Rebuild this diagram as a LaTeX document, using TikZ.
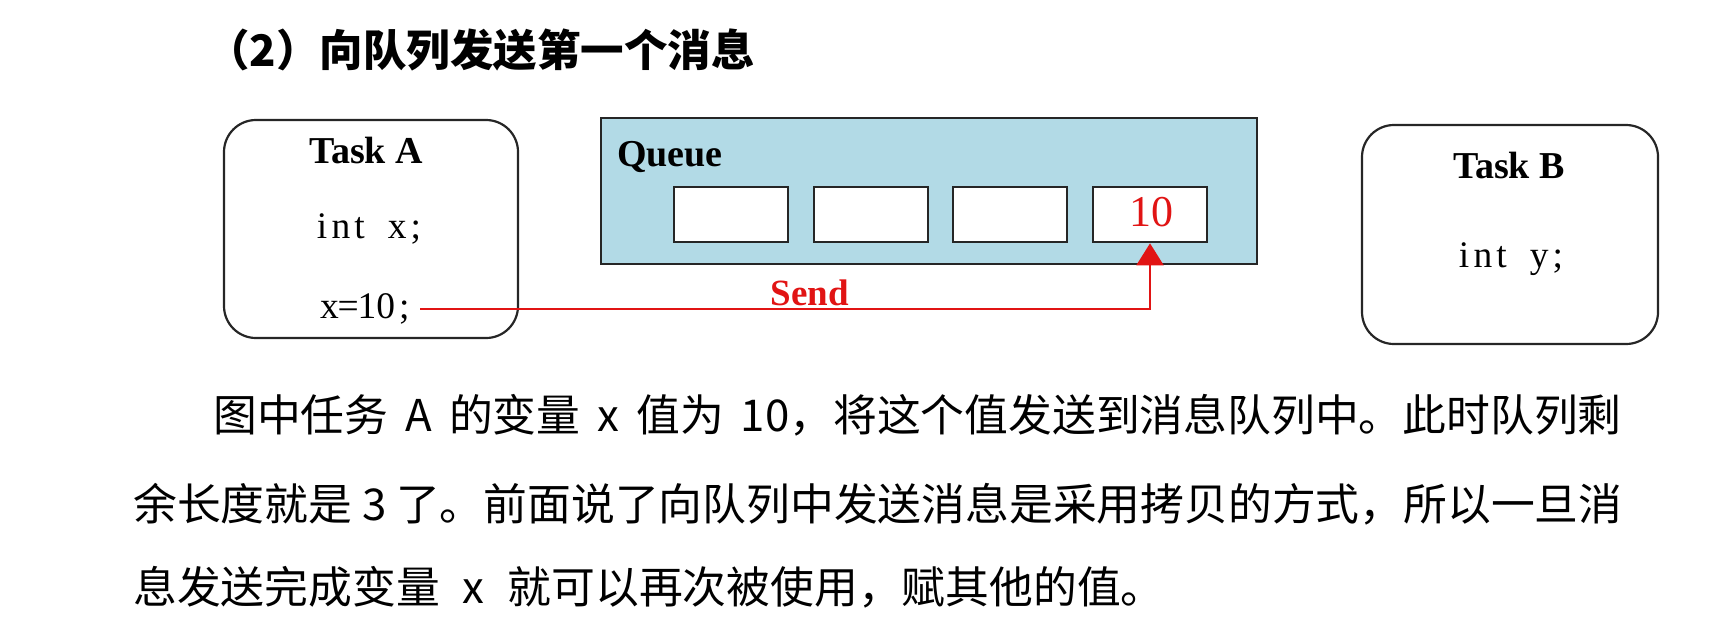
\documentclass[tikz,border=0pt]{standalone}
\usepackage{fontspec}
\setmainfont{Liberation Serif}
\newfontfamily\cjk{Noto Sans CJK SC}
\usetikzlibrary{arrows.meta}
\definecolor{qblue}{RGB}{178,218,230}
\definecolor{sendred}{RGB}{225,20,20}
\newcommand{\mcc}[1]{\makebox[0.5em]{#1}}
\tikzset{
  taskbox/.style={draw=black!85, line width=2.2pt, rounded corners=32pt, fill=white},
  queuebox/.style={draw=black!85, line width=2.6pt, fill=qblue},
  slot/.style={draw=black!85, line width=2.6pt, fill=white, minimum width=114pt, minimum height=55pt, inner sep=0pt},
  ttl/.style={font=\fontsize{38}{40}\selectfont\bfseries, inner sep=0pt},
  code/.style={font=\fontsize{37.5}{40}\selectfont, inner sep=0pt},
  para/.style={font=\fontsize{43.8}{48}\selectfont\cjk, inner sep=0pt, anchor=west},
  sendline/.style={draw=sendred, line width=2pt, -{Triangle[width=27pt,length=22pt]}},
}
\begin{document}
\begin{tikzpicture}[x=1pt,y=-1pt]
\useasboundingbox (0,0) rectangle (1736,635);
% title
\node[font=\fontsize{43.5}{46}\selectfont\cjk\bfseries, inner sep=0pt, anchor=west] (title) at (206,50) {（2）向队列发送第一个消息};
% Task A
\node[taskbox, minimum width=294pt, minimum height=218pt] (ta) at (371,229) {};
\node[ttl] (tat) at (366,150) {Task A};
\node[code] (tax) at (369,229) {\mcc{i}\mcc{n}\mcc{t}\mcc{~}\mcc{x}\mcc{;}};
\node[code, anchor=east] (tav) at (414,309) {\mcc{x}\mcc{=}\mcc{1}\mcc{0}\mcc{;}};
% Queue
\node[queuebox, minimum width=656pt, minimum height=146pt] (q) at (929,191) {};
\node[ttl, anchor=west] (qt) at (617,157) {Queue};
\node[slot] (s1) at (731,214.5) {};
\node[slot] (s2) at (871,214.5) {};
\node[slot] (s3) at (1010,214.5) {};
\node[slot] (s4) at (1150,214.5) {};
\node[font=\fontsize{44}{48}\selectfont, text=sendred, inner sep=0pt] (ten) at (1151,212) {10};
% Task B
\node[taskbox, minimum width=296pt, minimum height=219pt] (tb) at (1510,234.5) {};
\node[ttl] (tbt) at (1509,165) {Task B};
\node[code] (tby) at (1511,259) {\mcc{i}\mcc{n}\mcc{t}\mcc{~}\mcc{y}\mcc{;}};
% arrow
\draw[sendline] (tav.east) ++(6,0) coordinate (st) (st) -| (s4.south);
\node[font=\fontsize{37}{40}\selectfont\bfseries, inner sep=0pt, text=sendred] (send) at (810,293) {Send};
% paragraph
\node[para] (p1) at (213,415) {图中任务\hspace{17pt}A\hspace{17pt}的变量\hspace{17pt}x\hspace{17pt}值为\hspace{17pt}10，将这个值发送到消息队列中。此时队列剩};
\node[para] (p2) at (133,504) {余长度就是 3 了。前面说了向队列中发送消息是采用拷贝的方式，所以一旦消};
\node[para] (p3) at (133,587) {息发送完成变量\hspace{23pt}x\hspace{23pt}就可以再次被使用，赋其他的值。};
\end{tikzpicture}
\end{document}
